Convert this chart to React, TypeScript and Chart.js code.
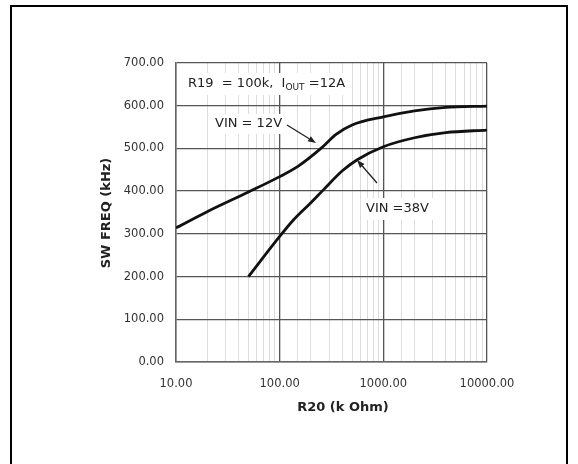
import { useEffect, useRef } from 'react';
import { Chart, registerables } from 'chart.js';

Chart.register(...registerables);

// R20 (k Ohm) vs SW FREQ (kHz)
const r20Vin12 = [10, 20, 50, 100, 150, 250, 350, 500, 1000, 2000, 4000, 10000];
const freqVin12 = [314, 352, 398, 434, 458, 500, 533, 555, 574, 588, 596, 599];
const r20Vin38 = [50, 100, 135, 200, 264, 400, 555, 1000, 2000, 4000, 10000];
const freqVin38 = [200, 294, 332, 373, 403, 447, 473, 504, 525, 537, 543];

const xMin = 10;
const xMax = 10000;
const yMin = 0;
const yMax = 700;
const yStep = 100;

const xTitle = 'R20 (k Ohm)';
const yTitle = 'SW FREQ (kHz)';
const label12 = 'VIN = 12V';
const label38 = 'VIN =38V';

const FONT = '"DejaVu Sans", sans-serif';

const isPow10 = (v: number) => Math.abs(Math.log10(v) - Math.round(Math.log10(v))) < 1e-9;

function arrow(ctx: CanvasRenderingContext2D, x1: number, y1: number, x2: number, y2: number) {
  ctx.save();
  ctx.strokeStyle = '#222';
  ctx.fillStyle = '#222';
  ctx.lineWidth = 1.3;
  const a = Math.atan2(y2 - y1, x2 - x1);
  const hl = 8;
  const hw = 3;
  const bx = x2 - hl * Math.cos(a);
  const by = y2 - hl * Math.sin(a);
  ctx.beginPath();
  ctx.moveTo(x1, y1);
  ctx.lineTo(bx, by);
  ctx.stroke();
  ctx.beginPath();
  ctx.moveTo(x2, y2);
  ctx.lineTo(bx + hw * Math.sin(a), by - hw * Math.cos(a));
  ctx.lineTo(bx - hw * Math.sin(a), by + hw * Math.cos(a));
  ctx.closePath();
  ctx.fill();
  ctx.restore();
}

const decor = {
  id: 'decor',
  beforeDraw(chart: any) {
    const ctx = chart.ctx as CanvasRenderingContext2D;
    ctx.save();
    ctx.fillStyle = '#fff';
    ctx.fillRect(0, 0, chart.width, chart.height);
    ctx.strokeStyle = '#000';
    ctx.lineWidth = 2;
    ctx.strokeRect(11, 6, 556, 520);
    ctx.restore();
  },
  beforeDatasetsDraw(chart: any) {
    const ctx = chart.ctx as CanvasRenderingContext2D;
    ctx.save();
    ctx.fillStyle = '#fff';
    ctx.fillRect(183, 73, 167, 22);
    ctx.fillRect(210, 114, 76, 20);
    ctx.fillRect(361, 198, 72, 22);
    ctx.restore();
  },
  afterDatasetsDraw(chart: any) {
    const ctx = chart.ctx as CanvasRenderingContext2D;
    ctx.save();
    ctx.fillStyle = '#222';
    ctx.textBaseline = 'middle';
    ctx.textAlign = 'left';
    // R19 label with subscript
    ctx.font = `13px ${FONT}`;
    let x = 188;
    const p1 = 'R19  = 100k,  I';
    ctx.fillText(p1, x, 84);
    x += ctx.measureText(p1).width;
    ctx.font = `9px ${FONT}`;
    ctx.fillText('OUT', x, 88);
    x += ctx.measureText('OUT').width;
    ctx.font = `13px ${FONT}`;
    ctx.fillText(' =12A', x, 84);

    ctx.fillText(label12, 215, 124);
    ctx.fillText(label38, 366, 209);

    arrow(ctx, 287, 125, 316, 143);
    arrow(ctx, 377, 183, 357, 160);

    // axis titles
    ctx.font = `bold 13px ${FONT}`;
    ctx.textAlign = 'center';
    ctx.fillText(xTitle, 343, 408);
    ctx.translate(107, 213);
    ctx.rotate(-Math.PI / 2);
    ctx.fillText(yTitle, 0, 0);
    ctx.restore();
  },
};

export default function App() {
  const ref = useRef<HTMLCanvasElement | null>(null);
  useEffect(() => {
    if (!ref.current) return;
    const chart = new Chart(ref.current, {
      type: 'line',
      data: {
        datasets: [
          {
            label: label12,
            data: r20Vin12.map((r, i) => ({ x: r, y: freqVin12[i] })),
            borderColor: '#111',
            borderWidth: 2.8,
            pointRadius: 0,
            cubicInterpolationMode: 'monotone',
            fill: false,
          },
          {
            label: label38,
            data: r20Vin38.map((r, i) => ({ x: r, y: freqVin38[i] })),
            borderColor: '#111',
            borderWidth: 2.8,
            pointRadius: 0,
            cubicInterpolationMode: 'monotone',
            fill: false,
          },
        ],
      },
      options: {
        animation: false,
        responsive: false,
        layout: { padding: { left: 0, top: 63, right: 91, bottom: 0 } },
        plugins: { legend: { display: false }, tooltip: { enabled: false } },
        scales: {
          x: {
            type: 'logarithmic',
            min: xMin,
            max: xMax,
            afterFit: (s: any) => { s.height = 102; },
            border: { color: '#666', width: 1.5 },
            grid: {
              drawTicks: false,
              color: (c: any) => (c.tick && isPow10(c.tick.value) ? '#555' : '#dcdcdc'),
              lineWidth: (c: any) => (c.tick && isPow10(c.tick.value) ? 1.3 : 1),
            },
            ticks: {
              autoSkip: false,
              maxRotation: 0,
              padding: 15,
              color: '#333',
              font: { family: FONT, size: 11.5 },
              callback: (v: any) => (isPow10(Number(v)) ? Number(v).toFixed(2) : ''),
            },
          },
          y: {
            type: 'linear',
            min: yMin,
            max: yMax,
            afterFit: (s: any) => { s.width = 176; },
            border: { color: '#666', width: 1.5 },
            grid: { drawTicks: false, color: '#555', lineWidth: 1.3 },
            ticks: {
              stepSize: yStep,
              padding: 12,
              color: '#333',
              font: { family: FONT, size: 11.5 },
              callback: (v: any) => Number(v).toFixed(2),
            },
          },
        },
      },
      plugins: [decor],
    } as any);
    return () => chart.destroy();
  }, []);
  return (
    <div style={{ position: 'fixed', left: 0, top: 0, width: 578, height: 464, background: '#fff' }}>
      <canvas ref={ref} width={578} height={464} style={{ width: 578, height: 464, display: 'block' }} />
    </div>
  );
}
